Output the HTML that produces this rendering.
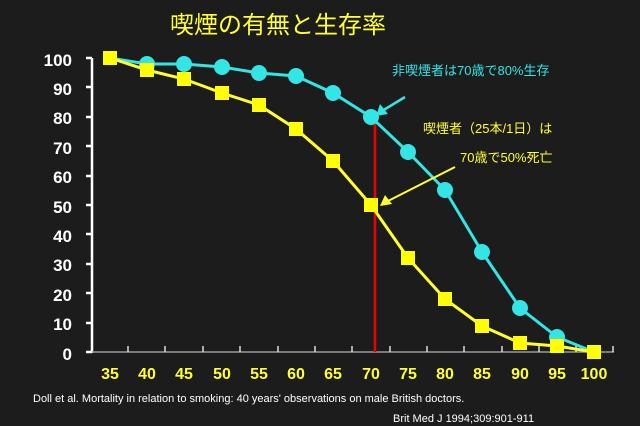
<!DOCTYPE html>
<html><head><meta charset="utf-8"><style>
html,body{margin:0;padding:0;background:#1c1c1c;}
svg{display:block}
</style></head><body>
<svg width="640" height="426" viewBox="0 0 640 426" xmlns="http://www.w3.org/2000/svg">
<rect width="640" height="426" fill="#1c1c1c"/>
<text x="278" y="33" fill="#ffff33" font-size="24" text-anchor="middle" font-family="'Liberation Sans','Noto Sans CJK JP',sans-serif">喫煙の有無と生存率</text>
<g font-family="'Liberation Sans',sans-serif" font-weight="bold" font-size="17" fill="#fff" text-anchor="end">
<text x="72" y="66">100</text><text x="72" y="95">90</text><text x="72" y="124">80</text><text x="72" y="154">70</text><text x="72" y="183">60</text><text x="72" y="213">50</text><text x="72" y="242">40</text><text x="72" y="271">30</text><text x="72" y="301">20</text><text x="72" y="330">10</text><text x="72" y="360">0</text>
</g>
<line x1="92" y1="58" x2="92" y2="353" stroke="#fff" stroke-width="2.5"/>
<g stroke="#fff" stroke-width="2.5">
<line x1="86" y1="58" x2="92" y2="58"/><line x1="86" y1="87" x2="92" y2="87"/><line x1="86" y1="117" x2="92" y2="117"/><line x1="86" y1="146" x2="92" y2="146"/><line x1="86" y1="176" x2="92" y2="176"/><line x1="86" y1="205" x2="92" y2="205"/><line x1="86" y1="234" x2="92" y2="234"/><line x1="86" y1="264" x2="92" y2="264"/><line x1="86" y1="293" x2="92" y2="293"/><line x1="86" y1="323" x2="92" y2="323"/><line x1="86" y1="352" x2="92" y2="352"/>
</g>
<line x1="92" y1="352" x2="614" y2="352" stroke="#999" stroke-width="1.5"/>
<g stroke="#ddd" stroke-width="1.5">
<line x1="128" y1="346" x2="128" y2="352"/><line x1="165" y1="346" x2="165" y2="352"/><line x1="203" y1="346" x2="203" y2="352"/><line x1="240" y1="346" x2="240" y2="352"/><line x1="278" y1="346" x2="278" y2="352"/><line x1="315" y1="346" x2="315" y2="352"/><line x1="352" y1="346" x2="352" y2="352"/><line x1="390" y1="346" x2="390" y2="352"/><line x1="427" y1="346" x2="427" y2="352"/><line x1="464" y1="346" x2="464" y2="352"/><line x1="502" y1="346" x2="502" y2="352"/><line x1="539" y1="346" x2="539" y2="352"/><line x1="576" y1="346" x2="576" y2="352"/><line x1="613" y1="346" x2="613" y2="352"/>
</g>
<g font-family="'Liberation Sans',sans-serif" font-weight="bold" font-size="16" fill="#ffff33" text-anchor="middle">
<text x="110" y="379">35</text><text x="147" y="379">40</text><text x="184" y="379">45</text><text x="222" y="379">50</text><text x="259" y="379">55</text><text x="296" y="379">60</text><text x="333" y="379">65</text><text x="371" y="379">70</text><text x="408" y="379">75</text><text x="445" y="379">80</text><text x="482" y="379">85</text><text x="520" y="379">90</text><text x="557" y="379">95</text><text x="594" y="379">100</text>
</g>
<line x1="375" y1="117" x2="375" y2="352" stroke="#e00" stroke-width="2.5"/>
<polyline fill="none" stroke="#33e5e5" stroke-width="3" points="110,58 147,64 184,64 222,67 259,73 296,76 333,93 371,117 408,152 445,190 482,252 520,308 557,337 594,352"/>
<g fill="#33e5e5">
<circle cx="147" cy="64" r="8"/><circle cx="184" cy="64" r="8"/><circle cx="222" cy="67" r="8"/><circle cx="259" cy="73" r="8"/><circle cx="296" cy="76" r="8"/><circle cx="333" cy="93" r="8"/><circle cx="371" cy="117" r="8"/><circle cx="408" cy="152" r="8"/><circle cx="445" cy="190" r="8"/><circle cx="482" cy="252" r="8"/><circle cx="520" cy="308" r="8"/><circle cx="557" cy="337" r="8"/>
</g>
<polyline fill="none" stroke="#ffff33" stroke-width="3" points="110,58 147,70 184,79 222,93 259,105 296,129 333,161 371,205 408,258 445,299 482,326 520,343 557,346 594,352"/>
<g fill="#ffff00">
<rect x="103" y="51" width="14" height="14"/><rect x="140" y="63" width="14" height="14"/><rect x="177" y="72" width="14" height="14"/><rect x="215" y="86" width="14" height="14"/><rect x="252" y="98" width="14" height="14"/><rect x="289" y="122" width="14" height="14"/><rect x="326" y="154" width="14" height="14"/><rect x="364" y="198" width="14" height="14"/><rect x="401" y="251" width="14" height="14"/><rect x="438" y="292" width="14" height="14"/><rect x="475" y="319" width="14" height="14"/><rect x="513" y="336" width="14" height="14"/><rect x="550" y="339" width="14" height="14"/><rect x="587" y="345" width="14" height="14"/>
</g>
<g font-family="'Liberation Sans','Noto Sans CJK JP',sans-serif" font-size="13">
<text x="392" y="75" fill="#33e5e5">非喫煙者は70歳で80%生存</text>
<text x="423" y="133" fill="#ffff33">喫煙者（25本/1日）は</text>
<text x="460" y="162" fill="#ffff33">70歳で50%死亡</text>
</g>
<line x1="405" y1="97" x2="382" y2="111" stroke="#33e5e5" stroke-width="2.5"/>
<polygon points="376,116 380,104 388,114" fill="#33e5e5"/>
<line x1="455" y1="167" x2="388" y2="201" stroke="#ffff33" stroke-width="2"/>
<polygon points="380,206 385,195 392,204" fill="#ffff33"/>
<g font-family="'Liberation Sans',sans-serif" font-size="11" fill="#fff">
<text x="33" y="402">Doll et al. Mortality in relation to smoking: 40 years' observations on male British doctors.</text>
<text x="393" y="422">Brit Med J 1994;309:901-911</text>
</g>
</svg>
</body></html>
